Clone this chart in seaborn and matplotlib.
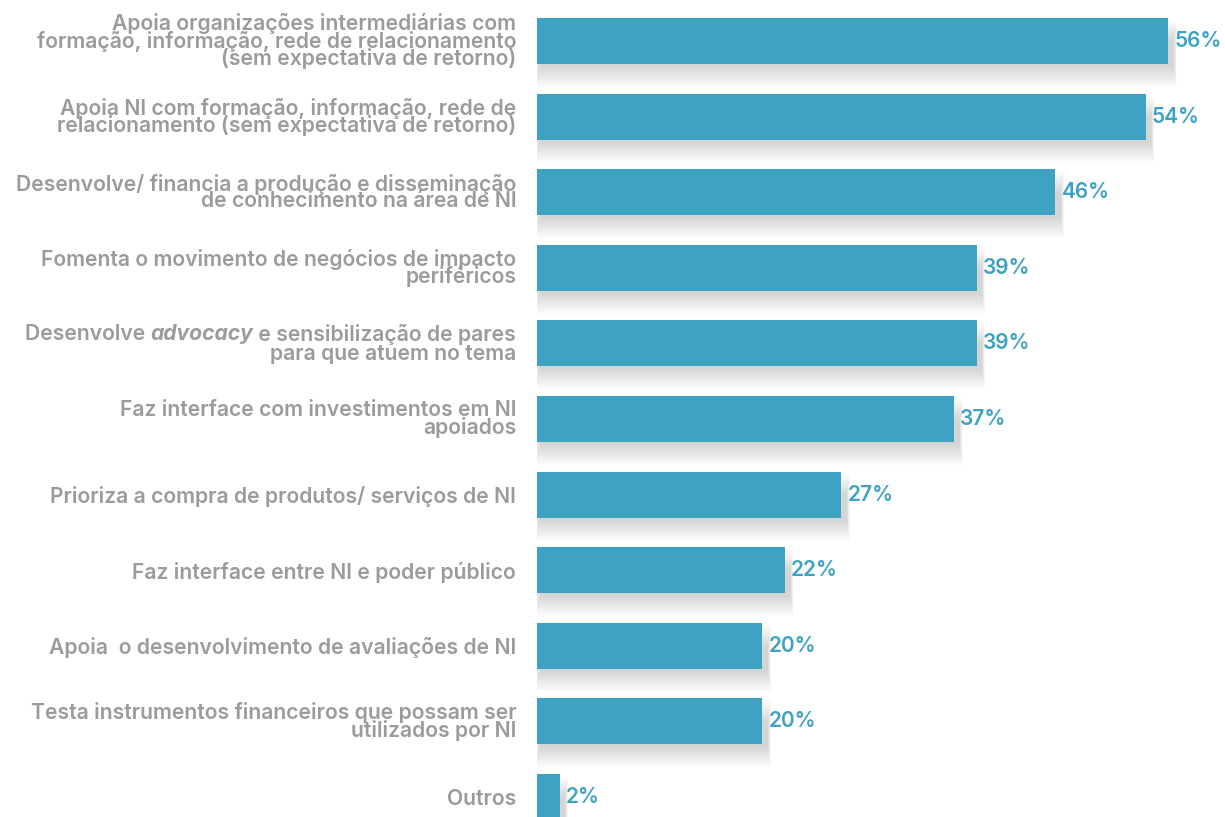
import matplotlib
matplotlib.use("Agg")
import matplotlib.pyplot as plt
from matplotlib.transforms import IdentityTransform
import seaborn as sns

# Data
labels = [
    "Apoia organizações intermediárias com\nformação, informação, rede de relacionamento\n(sem expectativa de retorno)",
    "Apoia NI com formação, informação, rede de\nrelacionamento (sem expectativa de retorno)",
    "Desenvolve/ financia a produção e disseminação\nde conhecimento na área de NI",
    "Fomenta o movimento de negócios de impacto\nperiféricos",
    "Desenvolve advocacy e sensibilização de pares\npara que atuem no tema",
    "Faz interface com investimentos em NI\napoiados",
    "Prioriza a compra de produtos/ serviços de NI",
    "Faz interface entre NI e poder público",
    "Apoia  o desenvolvimento de avaliações de NI",
    "Testa instrumentos financeiros que possam ser\nutilizados por NI",
    "Outros",
]
values = [56, 54, 46, 39, 39, 37, 27, 22, 20, 20, 2]

bar_color = "#3ea2c2"
label_color = "#9b9b9b"
font = "Inter"
fs = 15.2

sns.set_style("white")
plt.rcParams["font.family"] = [font, "DejaVu Sans"]

fig = plt.figure(figsize=(12.25, 8.17), dpi=100)
ax = fig.add_axes([537 / 1225, 0, 1 - 537 / 1225, 1])

# soft shadow under each bar
ypos = list(range(len(values)))
for k in range(14):
    ax.barh([y + 0.17 for y in ypos], [v + 0.2 + 0.07 * k for v in values],
            height=0.36 + 0.04 * k, left=0.3 - 0.05 * k, color="black",
            alpha=0.011, linewidth=0, zorder=1)

sns.barplot(x=values, y=labels, orient="h", color=bar_color, width=0.61,
            saturation=1, linewidth=0, ax=ax, zorder=3)

ax.set_xlim(0, 61.05)
ax.set_ylim(10.265, -0.542)
for s in ax.spines.values():
    s.set_visible(False)
ax.set_xticks([])
ax.set_xlabel("")
ax.set_ylabel("")
ax.tick_params(axis="y", length=0, pad=15)
for t in ax.get_yticklabels():
    t.set_color(label_color)
    t.set_fontsize(fs)
    t.set_fontweight("semibold")
    t.set_linespacing(0.8)

for i, v in enumerate(values):
    ax.text(v + 0.55, i, f"{v}%", va="center", ha="left", color=bar_color,
            fontsize=15, fontweight="semibold", zorder=4)

# the "advocacy" label has an italic word, draw it in pieces
fig.canvas.draw()
renderer = fig.canvas.get_renderer()
tl = ax.get_yticklabels()[4]
bb = tl.get_window_extent(renderer)
ax.set_yticks(ax.get_yticks(), [t.get_text() if i != 4 else ""
                                for i, t in enumerate(ax.get_yticklabels())])
kw = dict(color=label_color, fontsize=fs, transform=IdentityTransform())
fig.text(bb.x1, bb.y0 - 1, "para que atuem no tema", ha="right", va="bottom",
         fontweight="semibold", **kw)
x = bb.x1
for piece, style, weight in [(" e sensibilização de pares", "normal", "semibold"),
                             ("advocacy", "italic", "bold"),
                             ("Desenvolve ", "normal", "semibold")]:
    t = fig.text(x, bb.y1 + 1, piece, ha="right", va="top", fontstyle=style,
                 fontweight=weight, **kw)
    x = t.get_window_extent(renderer).x0

fig.savefig("out.png", dpi=100, facecolor="white")
